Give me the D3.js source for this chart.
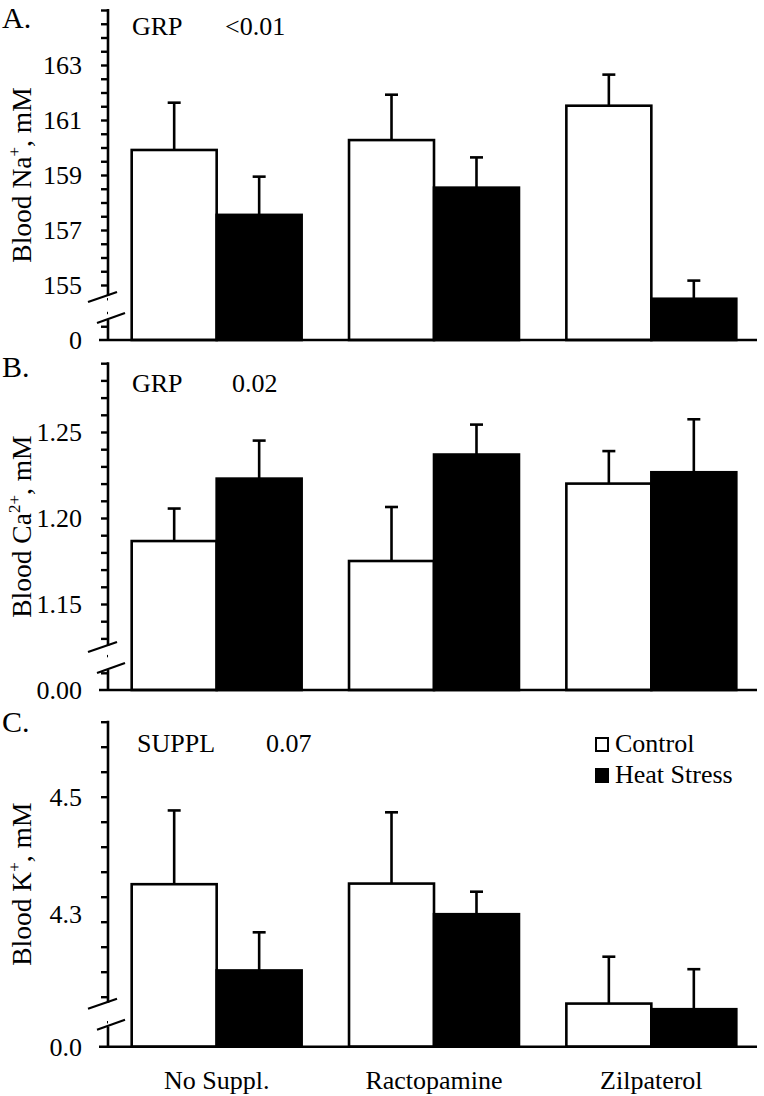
<!DOCTYPE html>
<html>
<head>
<meta charset="utf-8">
<script src="https://cdn.jsdelivr.net/npm/d3@7"></script>
<style>
  html, body { margin: 0; padding: 0; background: #fff; }
  svg { display: block; }
</style>
</head>
<body>
<svg id="chart" width="764" height="1096"></svg>
<script>
// ---------------- data ----------------
const categories = ["No Suppl.", "Ractopamine", "Zilpaterol"];
const series = ["Control", "Heat Stress"];

// Panel A: Blood Na+, mM
const naControl = [159.91, 160.27, 161.52];
const naControlSE = [1.72, 1.65, 1.13];
const naHeat = [157.55, 158.54, 154.50];
const naHeatSE = [1.39, 1.10, 0.66];

// Panel B: Blood Ca2+, mM
const caControl = [1.1866, 1.1750, 1.2200];
const caControlSE = [0.0189, 0.0314, 0.0189];
const caHeat = [1.2229, 1.2369, 1.2266];
const caHeatSE = [0.0221, 0.0174, 0.0308];

// Panel C: Blood K+, mM
const kControl = [4.360, 4.361, 4.169];
const kControlSE = [0.118, 0.114, 0.075];
const kHeat = [4.222, 4.312, 4.160];
const kHeatSE = [0.061, 0.036, 0.064];

// axis settings (value domains and tick labels)
const naDomain = [153, 165];
const naMinorStep = 0.5;
const naMajorTicks = [153, 155, 157, 159, 161, 163];
const naTickLabels = ["0", "155", "157", "159", "161", "163"];

const caDomain = [1.10, 1.29];
const caMinorStep = 0.01;
const caMajorTicks = [1.10, 1.15, 1.20, 1.25];
const caTickLabels = ["0.00", "1.15", "1.20", "1.25"];

const kDomain = [4.10, 4.62];
const kMinorStep = 0.04;
const kMajorTicks = [4.10, 4.30, 4.50];
const kTickLabels = ["0.0", "4.3", "4.5"];

const panelLetters = ["A.", "B.", "C."];
const statLabels = [["GRP", "<0.01"], ["GRP", "0.02"], ["SUPPL", "0.07"]];

// ---------------- layout ----------------
const FONT = "'Liberation Serif', 'Times New Roman', Times, 'DejaVu Serif', serif";
const svg = d3.select("#chart").attr("font-family", FONT);
const axisX = 108, rightX = 760;
const FS = 26;

function txt(sel) {
  return sel.append("text").attr("font-family", FONT).attr("fill", "#000");
}

const x0 = d3.scaleBand().domain(categories).range([axisX, rightX])
  .paddingInner(0.218).paddingOuter(0.109);
const x1 = d3.scaleBand().domain(series).range([0, x0.bandwidth()]);

const panels = [
  { letter: panelLetters[0], stat: statLabels[0], top: 10, base: 340,
    domain: naDomain, minor: naMinorStep, majors: naMajorTicks, labels: naTickLabels,
    labelNudge: [0, 0, 0, 0, 0, 0],
    ctrl: naControl, ctrlSE: naControlSE, heat: naHeat, heatSE: naHeatSE,
    title: ["Blood Na", "+", ", mM"], letterY: 28, statY: 35, statX: [132, 225] },
  { letter: panelLetters[1], stat: statLabels[1], top: 363.2, base: 690,
    domain: caDomain, minor: caMinorStep, majors: caMajorTicks, labels: caTickLabels,
    labelNudge: [0, 0, 0, 0],
    ctrl: caControl, ctrlSE: caControlSE, heat: caHeat, heatSE: caHeatSE,
    title: ["Blood Ca", "2+", ", mM"], letterY: 377, statY: 392, statX: [132, 232] },
  { letter: panelLetters[2], stat: statLabels[2], top: 721.7, base: 1046.7,
    domain: kDomain, minor: kMinorStep, majors: kMajorTicks, labels: kTickLabels,
    labelNudge: [0, -8, 0],
    ctrl: kControl, ctrlSE: kControlSE, heat: kHeat, heatSE: kHeatSE,
    title: ["Blood K", "+", ", mM"], letterY: 732, statY: 752, statX: [137, 266] }
];

panels.forEach(p => {
  const g = svg.append("g");
  const y = d3.scaleLinear().domain(p.domain).range([p.base, p.top]);

  const rows = categories.map((c, i) => [
    { cat: c, s: "Control", v: p.ctrl[i], se: p.ctrlSE[i] },
    { cat: c, s: "Heat Stress", v: p.heat[i], se: p.heatSE[i] }
  ]).flat();

  // error bars
  rows.forEach(r => {
    const cx = x0(r.cat) + x1(r.s) + x1.bandwidth() / 2;
    g.append("line").attr("x1", cx).attr("x2", cx)
      .attr("y1", y(r.v)).attr("y2", y(r.v + r.se))
      .attr("stroke", "#000").attr("stroke-width", 2.6);
    g.append("line").attr("x1", cx - 6.5).attr("x2", cx + 6.5)
      .attr("y1", y(r.v + r.se)).attr("y2", y(r.v + r.se))
      .attr("stroke", "#000").attr("stroke-width", 2.6);
  });

  g.selectAll("rect.bar").data(rows).join("rect")
    .attr("class", "bar")
    .attr("x", d => x0(d.cat) + x1(d.s))
    .attr("width", x1.bandwidth())
    .attr("y", d => y(d.v))
    .attr("height", d => p.base - y(d.v))
    .attr("fill", d => d.s === "Control" ? "#fff" : "#000")
    .attr("stroke", "#000").attr("stroke-width", 2.6);

  // y axis minor ticks
  const n = Math.round((p.domain[1] - p.domain[0]) / p.minor);
  const minorTicks = d3.range(1, n + 1).map(k => p.domain[0] + k * p.minor);
  const yAxis = d3.axisLeft(y).tickValues(minorTicks).tickSize(7).tickFormat("");
  const ag = g.append("g").attr("transform", `translate(${axisX},0)`).call(yAxis);
  ag.select(".domain").remove();
  ag.selectAll(".tick line").attr("stroke", "#000").attr("stroke-width", 2.4);

  // axis line in two segments around the break
  g.append("line").attr("x1", axisX).attr("x2", axisX)
    .attr("y1", p.top - 1).attr("y2", p.base - 44)
    .attr("stroke", "#000").attr("stroke-width", 2.6);
  g.append("line").attr("x1", axisX).attr("x2", axisX)
    .attr("y1", p.base - 20).attr("y2", p.base)
    .attr("stroke", "#000").attr("stroke-width", 2.6);

  g.append("rect").attr("x", axisX - 12).attr("y", p.base - 43).attr("width", 11).attr("height", 22)
    .attr("fill", "#fff");

  // break slashes
  g.append("line").attr("x1", axisX - 20).attr("y1", p.base - 38)
    .attr("x2", axisX + 9).attr("y2", p.base - 48)
    .attr("stroke", "#000").attr("stroke-width", 2.2);
  g.append("line").attr("x1", axisX - 11).attr("y1", p.base - 17)
    .attr("x2", axisX + 17).attr("y2", p.base - 27)
    .attr("stroke", "#000").attr("stroke-width", 2.2);

  // x baseline
  g.append("line").attr("x1", axisX - 9).attr("x2", 757)
    .attr("y1", p.base).attr("y2", p.base)
    .attr("stroke", "#000").attr("stroke-width", 2.6);

  // tick labels
  p.majors.forEach((v, i) => {
    txt(g).attr("x", 82).attr("y", y(v) + p.labelNudge[i]).attr("dy", "0.35em")
      .attr("text-anchor", "end").attr("font-size", FS).text(p.labels[i]);
  });

  // y title
  const tt = txt(g)
    .attr("transform", `translate(31,${(p.top + p.base) / 2}) rotate(-90)`)
    .attr("text-anchor", "middle").attr("font-size", 27.5);
  tt.append("tspan").text(p.title[0]);
  tt.append("tspan").attr("font-size", 17).attr("dy", -11).text(p.title[1]);
  tt.append("tspan").attr("dy", 11).text(p.title[2]);

  // letter
  txt(g).attr("x", 2).attr("y", p.letterY).attr("font-size", 30).text(p.letter);

  // stat annotation
  txt(g).attr("x", p.statX[0]).attr("y", p.statY).attr("font-size", FS).text(p.stat[0]);
  txt(g).attr("x", p.statX[1]).attr("y", p.statY).attr("font-size", FS).text(p.stat[1]);
});

// x labels
categories.forEach(c => {
  txt(svg).attr("x", x0(c) + x0.bandwidth() / 2).attr("y", 1089)
    .attr("text-anchor", "middle").attr("font-size", FS).text(c);
});

// legend
const legend = svg.append("g");
series.forEach((s, i) => {
  const yy = 738 + i * 31;
  legend.append("rect").attr("x", 596).attr("y", yy).attr("width", 12).attr("height", 13)
    .attr("fill", s === "Control" ? "#fff" : "#000").attr("stroke", "#000").attr("stroke-width", 2);
  txt(legend).attr("x", 615).attr("y", yy + 14).attr("font-size", FS).text(s);
});
</script>
</body>
</html>
